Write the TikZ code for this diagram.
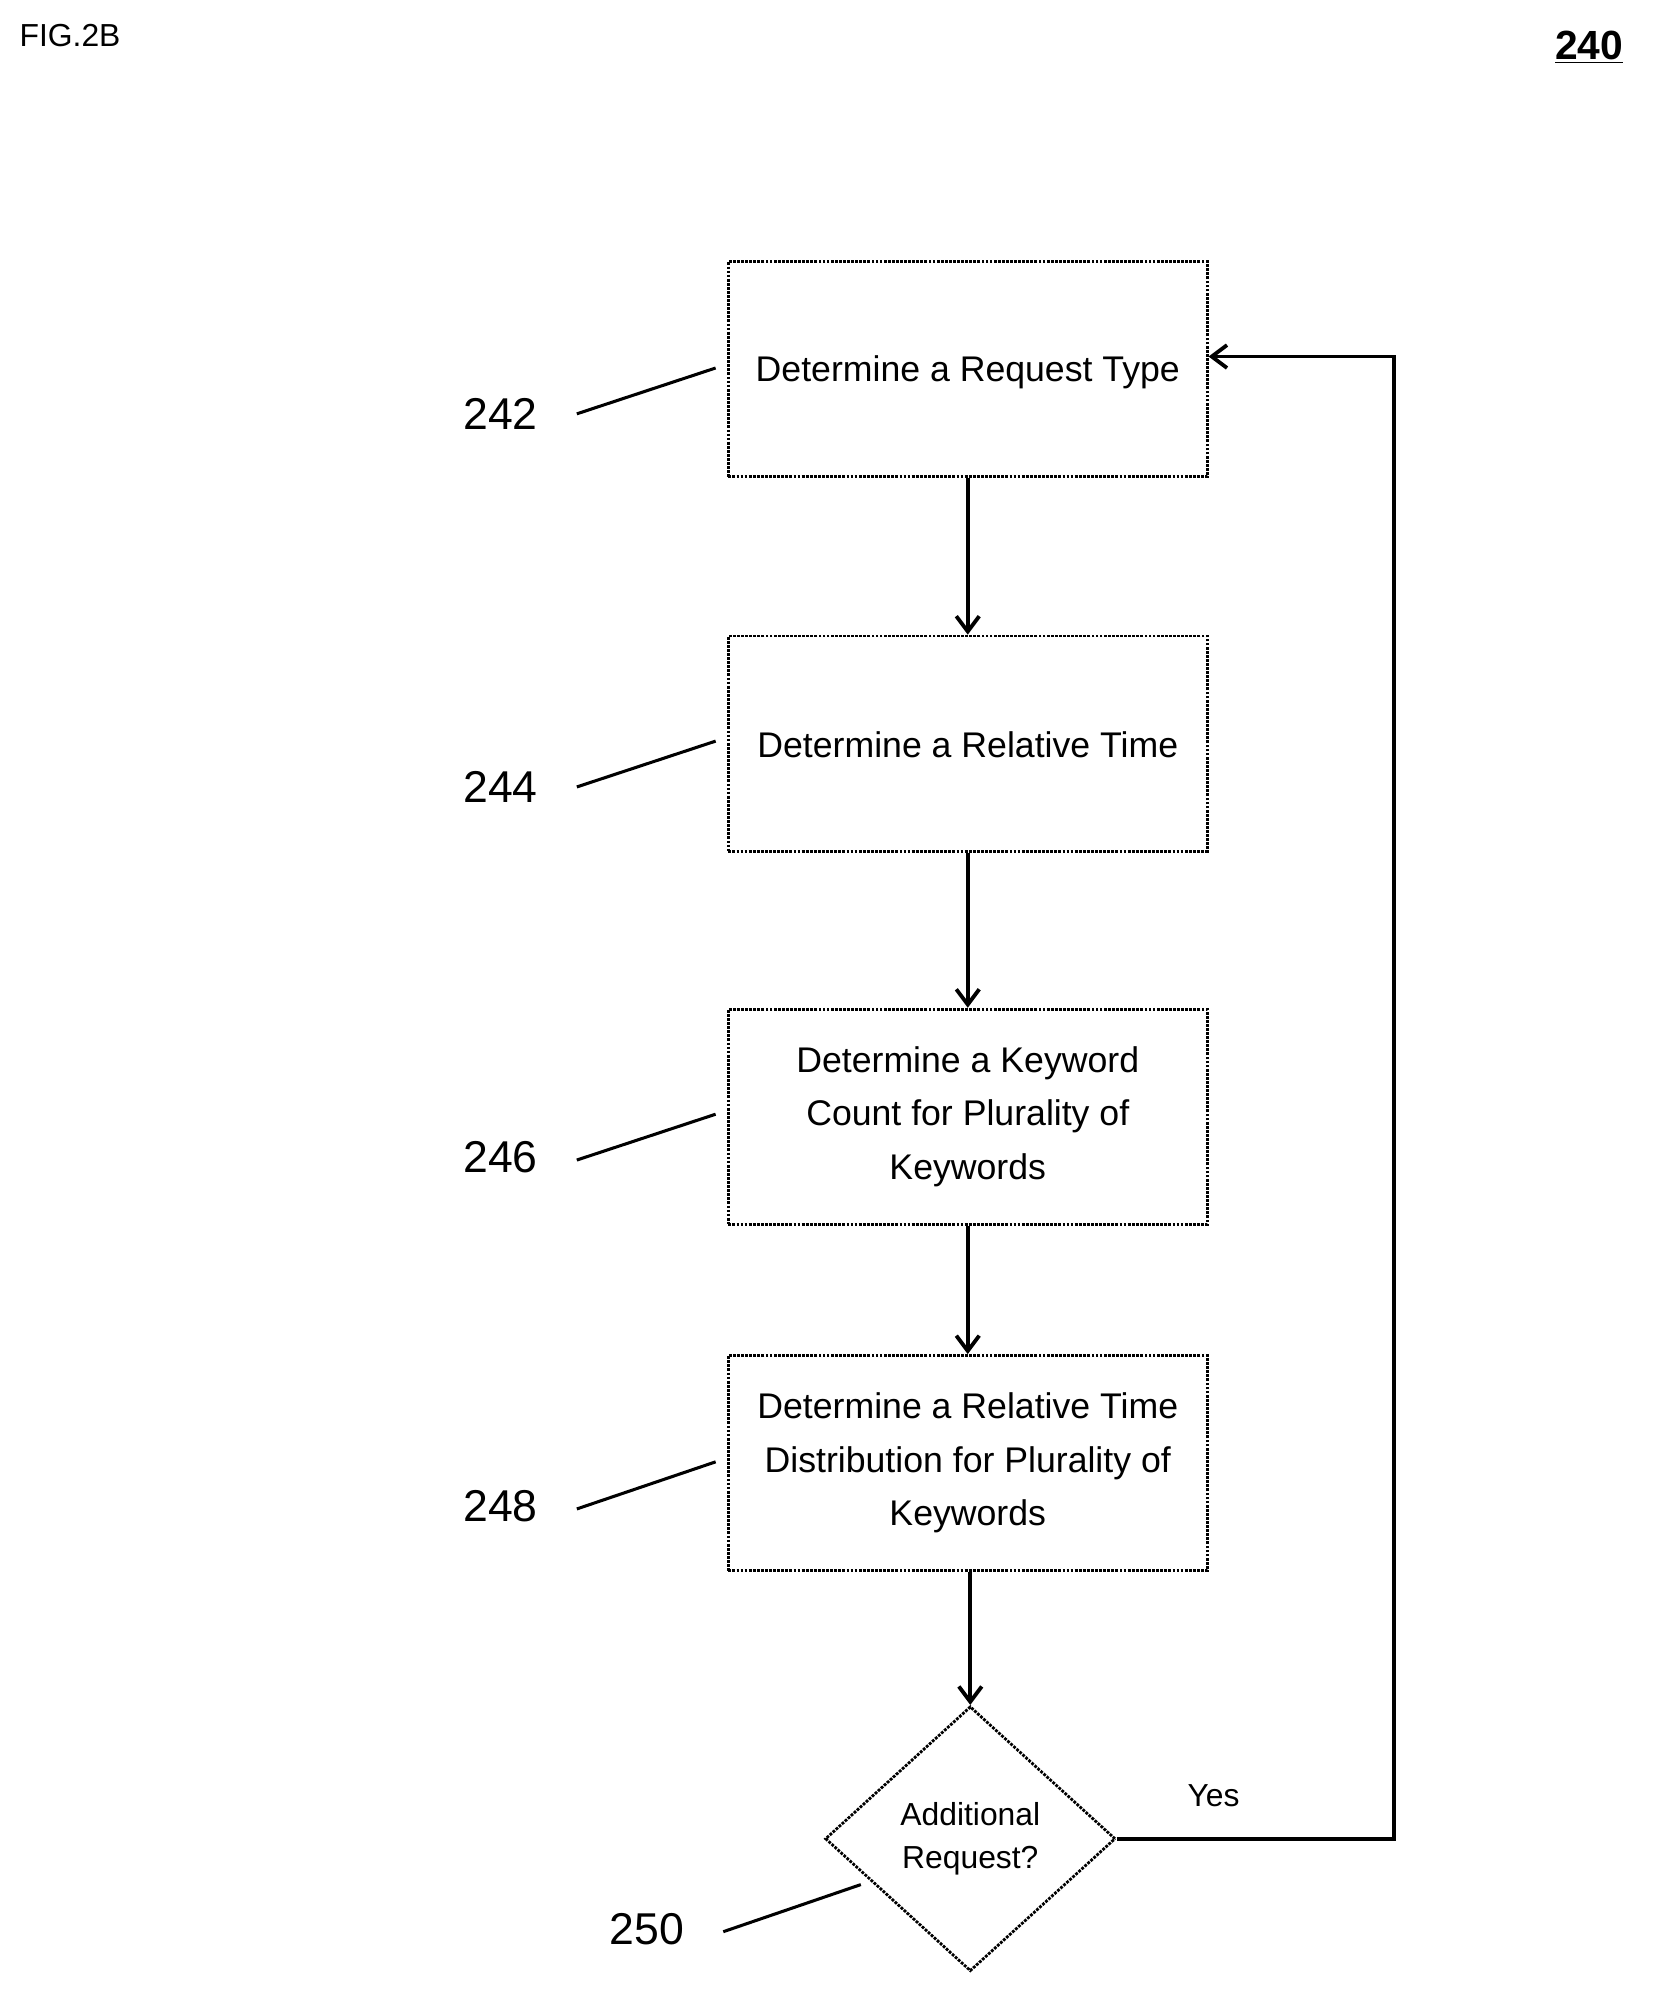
\documentclass[tikz,border=0pt]{standalone}
\usepackage{fontspec}
\setmainfont{Liberation Sans}
\usetikzlibrary{shapes.geometric,arrows.meta}
\begin{document}
\begin{tikzpicture}[x=1pt,y=-1pt,
  box/.style={draw,line width=2.2pt,densely dotted,minimum width=376pt,minimum height=169pt,inner sep=0pt,font=\fontsize{28}{42}\selectfont,align=center},
  lbl/.style={font=\fontsize{35}{40}\selectfont},
  arr/.style={line width=3pt,-{Straight Barb[length=12pt,width=18pt]}},
  lead/.style={line width=2.4pt}]
\useasboundingbox (0,0) rectangle (1300,1573);
\node[font=\fontsize{25}{28}\selectfont] (fig) at (55,28) {FIG.2B};
\node[font=\bfseries\fontsize{32}{36}\selectfont] (num) at (1248,37) {\underline{240}};
\node[box] (b242) at (760,290) {};
\node[font=\fontsize{28}{42}\selectfont] (t242) at (760,292) {Determine a Request Type};
\node[box] (b244) at (760,584) {};
\node[font=\fontsize{28}{42}\selectfont] (t244) at (760,585) {Determine a Relative Time};
\node[box] (b246) at (760,877) {Determine a Keyword\\Count for Plurality of\\Keywords};
\node[box] (b248) at (760,1149) {Determine a Relative Time\\Distribution for Plurality of\\Keywords};
\node[draw,line width=2.2pt,densely dotted,diamond,minimum width=228pt,minimum height=208pt,inner sep=0pt,font=\fontsize{25}{34}\selectfont,align=center] (d250) at (762,1444) {Additional\\Request?};
\draw[arr] (b242.south) -- (b244.north);
\draw[arr] (b244.south) -- (b246.north);
\draw[arr] (b246.south) -- (b248.north);
\draw[arr] (b248.south -| d250.north) -- (d250.north);
\coordinate (c1) at (1095,1444);
\coordinate (c2) at (1095,280);
\draw[arr] (d250.east) -- (c1) -- (c2) -- (c2 -| b242.east);
\node[font=\fontsize{25}{30}\selectfont] (yes) at (953,1410) {Yes};
\node[lbl] (l242) at (393,325) {242};
\node[lbl] (l244) at (393,618) {244};
\node[lbl] (l246) at (393,909) {246};
\node[lbl] (l248) at (393,1183) {248};
\node[lbl] (l250) at (508,1515) {250};
\coordinate (e242) at (562,289); \draw[lead] (453,325) -- (e242);
\coordinate (e244) at (562,582); \draw[lead] (453,618) -- (e244);
\coordinate (e246) at (562,875); \draw[lead] (453,911) -- (e246);
\coordinate (e248) at (562,1148); \draw[lead] (453,1185) -- (e248);
\coordinate (e250) at (676,1480); \draw[lead] (568,1517) -- (e250);
\end{tikzpicture}
\end{document}
